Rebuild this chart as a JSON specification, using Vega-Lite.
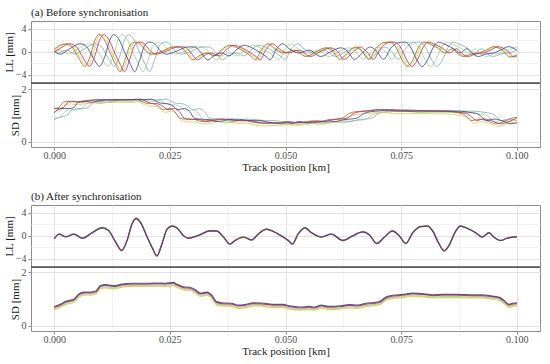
{
"$schema": "https://vega.github.io/schema/vega-lite/v6.json",
"background": "white",
"padding": {"left": 2, "top": 6, "right": 6, "bottom": 2},
"spacing": 17,
"config": {
  "font": "Liberation Serif",
  "view": {"stroke": "#8c8c8c", "strokeWidth": 1},
  "axis": {"labelFont": "Liberation Serif", "labelFontSize": 10, "labelColor": "#4d4d4d", "titleFont": "Liberation Serif", "titleFontSize": 11, "titleFontWeight": "normal", "titleColor": "#1a1a1a", "tickColor": "#8c8c8c", "tickSize": 3, "domain": false, "minExtent": 0, "labelOverlap": false},
  "axisX": {"labelPadding": 0, "titlePadding": 1},
  "axisY": {"labelPadding": 2, "titlePadding": 1},
  "title": {"font": "Liberation Serif", "fontSize": 11, "fontWeight": "normal", "color": "#1a1a1a", "anchor": "start", "frame": "group", "offset": 3}
},
"datasets": {
"lla": [
{"s":"G","x":0,"y":-0.03},{"s":"G","x":0.0013,"y":0.3},{"s":"G","x":0.0031,"y":-0.4},{"s":"G","x":0.0052,"y":0.55},{"s":"G","x":0.0074,"y":1.4},{"s":"G","x":0.0088,"y":0.9},{"s":"G","x":0.0103,"y":-1.1},{"s":"G","x":0.0116,"y":-2.5},{"s":"G","x":0.0128,"y":-0.7},{"s":"G","x":0.0138,"y":2.0},{"s":"G","x":0.0147,"y":3.0},{"s":"G","x":0.0157,"y":2.3},{"s":"G","x":0.0171,"y":-0.2},{"s":"G","x":0.0183,"y":-2.2},{"s":"G","x":0.0192,"y":-3.45},{"s":"G","x":0.0203,"y":-1.4},{"s":"G","x":0.0214,"y":1.15},{"s":"G","x":0.0225,"y":1.7},{"s":"G","x":0.0235,"y":1.4},{"s":"G","x":0.025,"y":0.0},{"s":"G","x":0.026,"y":-0.4},{"s":"G","x":0.0282,"y":0.1},{"s":"G","x":0.0307,"y":0.85},{"s":"G","x":0.0321,"y":0.85},{"s":"G","x":0.0336,"y":-0.2},{"s":"G","x":0.035,"y":-1.4},{"s":"G","x":0.0361,"y":-0.8},{"s":"G","x":0.0379,"y":-0.2},{"s":"G","x":0.0397,"y":-0.7},{"s":"G","x":0.0411,"y":0.3},{"s":"G","x":0.0429,"y":1.15},{"s":"G","x":0.0443,"y":0.8},{"s":"G","x":0.0461,"y":0.0},{"s":"G","x":0.0476,"y":-0.8},{"s":"G","x":0.0485,"y":-1.4},{"s":"G","x":0.0497,"y":0.3},{"s":"G","x":0.0512,"y":1.4},{"s":"G","x":0.0526,"y":0.55},{"s":"G","x":0.0547,"y":-0.2},{"s":"G","x":0.0569,"y":0.3},{"s":"G","x":0.0594,"y":-0.8},{"s":"G","x":0.0615,"y":0.0},{"s":"G","x":0.0637,"y":0.7},{"s":"G","x":0.0651,"y":0.2},{"s":"G","x":0.0667,"y":-1.3},{"s":"G","x":0.0684,"y":-0.2},{"s":"G","x":0.0701,"y":0.85},{"s":"G","x":0.0716,"y":0.0},{"s":"G","x":0.073,"y":-1.3},{"s":"G","x":0.0745,"y":0.55},{"s":"G","x":0.0762,"y":1.6},{"s":"G","x":0.0777,"y":1.7},{"s":"G","x":0.0788,"y":0.85},{"s":"G","x":0.0802,"y":-1.4},{"s":"G","x":0.0813,"y":-2.55},{"s":"G","x":0.0823,"y":-1.7},{"s":"G","x":0.0838,"y":0.85},{"s":"G","x":0.0848,"y":1.7},{"s":"G","x":0.0863,"y":1.3},{"s":"G","x":0.0881,"y":0.55},{"s":"G","x":0.0895,"y":-0.2},{"s":"G","x":0.091,"y":0.55},{"s":"G","x":0.092,"y":-0.2},{"s":"G","x":0.0935,"y":-0.8},{"s":"G","x":0.0949,"y":-0.4},{"s":"G","x":0.097,"y":-0.15},{"s":"G","x":0.0985,"y":0.4},{"s":"G","x":0.1,"y":0.9},
{"s":"T","x":0,"y":0.14},{"s":"T","x":0.0009,"y":-0.15},{"s":"T","x":0.0027,"y":0.3},{"s":"T","x":0.0045,"y":-0.4},{"s":"T","x":0.0066,"y":0.55},{"s":"T","x":0.0088,"y":1.4},{"s":"T","x":0.0102,"y":0.9},{"s":"T","x":0.0117,"y":-1.1},{"s":"T","x":0.013,"y":-2.5},{"s":"T","x":0.0142,"y":-0.7},{"s":"T","x":0.0152,"y":2.0},{"s":"T","x":0.0161,"y":3.0},{"s":"T","x":0.0171,"y":2.3},{"s":"T","x":0.0185,"y":-0.2},{"s":"T","x":0.0197,"y":-2.2},{"s":"T","x":0.0206,"y":-3.45},{"s":"T","x":0.0217,"y":-1.4},{"s":"T","x":0.0228,"y":1.15},{"s":"T","x":0.0239,"y":1.7},{"s":"T","x":0.0249,"y":1.4},{"s":"T","x":0.0264,"y":0.0},{"s":"T","x":0.0274,"y":-0.4},{"s":"T","x":0.0296,"y":0.1},{"s":"T","x":0.0321,"y":0.85},{"s":"T","x":0.0335,"y":0.85},{"s":"T","x":0.035,"y":-0.2},{"s":"T","x":0.0364,"y":-1.4},{"s":"T","x":0.0375,"y":-0.8},{"s":"T","x":0.0393,"y":-0.2},{"s":"T","x":0.0411,"y":-0.7},{"s":"T","x":0.0425,"y":0.3},{"s":"T","x":0.0443,"y":1.15},{"s":"T","x":0.0457,"y":0.8},{"s":"T","x":0.0475,"y":0.0},{"s":"T","x":0.049,"y":-0.8},{"s":"T","x":0.0499,"y":-1.4},{"s":"T","x":0.0511,"y":0.3},{"s":"T","x":0.0526,"y":1.4},{"s":"T","x":0.054,"y":0.55},{"s":"T","x":0.0561,"y":-0.2},{"s":"T","x":0.0583,"y":0.3},{"s":"T","x":0.0608,"y":-0.8},{"s":"T","x":0.0629,"y":0.0},{"s":"T","x":0.0651,"y":0.7},{"s":"T","x":0.0665,"y":0.2},{"s":"T","x":0.0681,"y":-1.3},{"s":"T","x":0.0698,"y":-0.2},{"s":"T","x":0.0715,"y":0.85},{"s":"T","x":0.073,"y":0.0},{"s":"T","x":0.0744,"y":-1.3},{"s":"T","x":0.0759,"y":0.55},{"s":"T","x":0.0776,"y":1.6},{"s":"T","x":0.0791,"y":1.7},{"s":"T","x":0.0802,"y":0.85},{"s":"T","x":0.0816,"y":-1.4},{"s":"T","x":0.0827,"y":-2.55},{"s":"T","x":0.0837,"y":-1.7},{"s":"T","x":0.0852,"y":0.85},{"s":"T","x":0.0862,"y":1.7},{"s":"T","x":0.0877,"y":1.3},{"s":"T","x":0.0895,"y":0.55},{"s":"T","x":0.0909,"y":-0.2},{"s":"T","x":0.0924,"y":0.55},{"s":"T","x":0.0934,"y":-0.2},{"s":"T","x":0.0949,"y":-0.8},{"s":"T","x":0.0963,"y":-0.4},{"s":"T","x":0.0984,"y":-0.15},{"s":"T","x":0.1,"y":0.3},
{"s":"Y","x":0,"y":0.28},{"s":"Y","x":0.0006,"y":0.55},{"s":"Y","x":0.0028,"y":1.4},{"s":"Y","x":0.0042,"y":0.9},{"s":"Y","x":0.0057,"y":-1.1},{"s":"Y","x":0.007,"y":-2.5},{"s":"Y","x":0.0082,"y":-0.7},{"s":"Y","x":0.0092,"y":2.0},{"s":"Y","x":0.0101,"y":3.0},{"s":"Y","x":0.0111,"y":2.3},{"s":"Y","x":0.0125,"y":-0.2},{"s":"Y","x":0.0137,"y":-2.2},{"s":"Y","x":0.0146,"y":-3.45},{"s":"Y","x":0.0157,"y":-1.4},{"s":"Y","x":0.0168,"y":1.15},{"s":"Y","x":0.0179,"y":1.7},{"s":"Y","x":0.0189,"y":1.4},{"s":"Y","x":0.0204,"y":0.0},{"s":"Y","x":0.0214,"y":-0.4},{"s":"Y","x":0.0236,"y":0.1},{"s":"Y","x":0.0261,"y":0.85},{"s":"Y","x":0.0275,"y":0.85},{"s":"Y","x":0.029,"y":-0.2},{"s":"Y","x":0.0304,"y":-1.4},{"s":"Y","x":0.0315,"y":-0.8},{"s":"Y","x":0.0333,"y":-0.2},{"s":"Y","x":0.0351,"y":-0.7},{"s":"Y","x":0.0365,"y":0.3},{"s":"Y","x":0.0383,"y":1.15},{"s":"Y","x":0.0397,"y":0.8},{"s":"Y","x":0.0415,"y":0.0},{"s":"Y","x":0.043,"y":-0.8},{"s":"Y","x":0.0439,"y":-1.4},{"s":"Y","x":0.0451,"y":0.3},{"s":"Y","x":0.0466,"y":1.4},{"s":"Y","x":0.048,"y":0.55},{"s":"Y","x":0.0501,"y":-0.2},{"s":"Y","x":0.0523,"y":0.3},{"s":"Y","x":0.0548,"y":-0.8},{"s":"Y","x":0.0569,"y":0.0},{"s":"Y","x":0.0591,"y":0.7},{"s":"Y","x":0.0605,"y":0.2},{"s":"Y","x":0.0621,"y":-1.3},{"s":"Y","x":0.0638,"y":-0.2},{"s":"Y","x":0.0655,"y":0.85},{"s":"Y","x":0.067,"y":0.0},{"s":"Y","x":0.0684,"y":-1.3},{"s":"Y","x":0.0699,"y":0.55},{"s":"Y","x":0.0716,"y":1.6},{"s":"Y","x":0.0731,"y":1.7},{"s":"Y","x":0.0742,"y":0.85},{"s":"Y","x":0.0756,"y":-1.4},{"s":"Y","x":0.0767,"y":-2.55},{"s":"Y","x":0.0777,"y":-1.7},{"s":"Y","x":0.0792,"y":0.85},{"s":"Y","x":0.0802,"y":1.7},{"s":"Y","x":0.0817,"y":1.3},{"s":"Y","x":0.0835,"y":0.55},{"s":"Y","x":0.0849,"y":-0.2},{"s":"Y","x":0.0864,"y":0.55},{"s":"Y","x":0.0874,"y":-0.2},{"s":"Y","x":0.0889,"y":-0.8},{"s":"Y","x":0.0903,"y":-0.4},{"s":"Y","x":0.0924,"y":-0.15},{"s":"Y","x":0.0939,"y":0.4},{"s":"Y","x":0.0954,"y":0.9},{"s":"Y","x":0.0972,"y":0.3},{"s":"Y","x":0.0989,"y":-0.9},{"s":"Y","x":0.1,"y":-0.6},
{"s":"O","x":0,"y":0.46},{"s":"O","x":0.0024,"y":1.4},{"s":"O","x":0.0038,"y":0.9},{"s":"O","x":0.0053,"y":-1.1},{"s":"O","x":0.0066,"y":-2.5},{"s":"O","x":0.0078,"y":-0.7},{"s":"O","x":0.0088,"y":2.0},{"s":"O","x":0.0097,"y":3.0},{"s":"O","x":0.0107,"y":2.3},{"s":"O","x":0.0121,"y":-0.2},{"s":"O","x":0.0133,"y":-2.2},{"s":"O","x":0.0142,"y":-3.45},{"s":"O","x":0.0153,"y":-1.4},{"s":"O","x":0.0164,"y":1.15},{"s":"O","x":0.0175,"y":1.7},{"s":"O","x":0.0185,"y":1.4},{"s":"O","x":0.02,"y":0.0},{"s":"O","x":0.021,"y":-0.4},{"s":"O","x":0.0232,"y":0.1},{"s":"O","x":0.0257,"y":0.85},{"s":"O","x":0.0271,"y":0.85},{"s":"O","x":0.0286,"y":-0.2},{"s":"O","x":0.03,"y":-1.4},{"s":"O","x":0.0311,"y":-0.8},{"s":"O","x":0.0329,"y":-0.2},{"s":"O","x":0.0347,"y":-0.7},{"s":"O","x":0.0361,"y":0.3},{"s":"O","x":0.0379,"y":1.15},{"s":"O","x":0.0393,"y":0.8},{"s":"O","x":0.0411,"y":0.0},{"s":"O","x":0.0426,"y":-0.8},{"s":"O","x":0.0435,"y":-1.4},{"s":"O","x":0.0447,"y":0.3},{"s":"O","x":0.0462,"y":1.4},{"s":"O","x":0.0476,"y":0.55},{"s":"O","x":0.0497,"y":-0.2},{"s":"O","x":0.0519,"y":0.3},{"s":"O","x":0.0544,"y":-0.8},{"s":"O","x":0.0565,"y":0.0},{"s":"O","x":0.0587,"y":0.7},{"s":"O","x":0.0601,"y":0.2},{"s":"O","x":0.0617,"y":-1.3},{"s":"O","x":0.0634,"y":-0.2},{"s":"O","x":0.0651,"y":0.85},{"s":"O","x":0.0666,"y":0.0},{"s":"O","x":0.068,"y":-1.3},{"s":"O","x":0.0695,"y":0.55},{"s":"O","x":0.0712,"y":1.6},{"s":"O","x":0.0727,"y":1.7},{"s":"O","x":0.0738,"y":0.85},{"s":"O","x":0.0752,"y":-1.4},{"s":"O","x":0.0763,"y":-2.55},{"s":"O","x":0.0773,"y":-1.7},{"s":"O","x":0.0788,"y":0.85},{"s":"O","x":0.0798,"y":1.7},{"s":"O","x":0.0813,"y":1.3},{"s":"O","x":0.0831,"y":0.55},{"s":"O","x":0.0845,"y":-0.2},{"s":"O","x":0.086,"y":0.55},{"s":"O","x":0.087,"y":-0.2},{"s":"O","x":0.0885,"y":-0.8},{"s":"O","x":0.0899,"y":-0.4},{"s":"O","x":0.092,"y":-0.15},{"s":"O","x":0.0935,"y":0.4},{"s":"O","x":0.095,"y":0.9},{"s":"O","x":0.0968,"y":0.3},{"s":"O","x":0.0985,"y":-0.9},{"s":"O","x":0.1,"y":-0.45},
{"s":"R","x":0,"y":0.0},{"s":"R","x":0.0012,"y":0.55},{"s":"R","x":0.0034,"y":1.4},{"s":"R","x":0.0048,"y":0.9},{"s":"R","x":0.0063,"y":-1.1},{"s":"R","x":0.0076,"y":-2.5},{"s":"R","x":0.0088,"y":-0.7},{"s":"R","x":0.0098,"y":2.0},{"s":"R","x":0.0107,"y":3.0},{"s":"R","x":0.0117,"y":2.3},{"s":"R","x":0.0131,"y":-0.2},{"s":"R","x":0.0143,"y":-2.2},{"s":"R","x":0.0152,"y":-3.45},{"s":"R","x":0.0163,"y":-1.4},{"s":"R","x":0.0174,"y":1.15},{"s":"R","x":0.0185,"y":1.7},{"s":"R","x":0.0195,"y":1.4},{"s":"R","x":0.021,"y":0.0},{"s":"R","x":0.022,"y":-0.4},{"s":"R","x":0.0242,"y":0.1},{"s":"R","x":0.0267,"y":0.85},{"s":"R","x":0.0281,"y":0.85},{"s":"R","x":0.0296,"y":-0.2},{"s":"R","x":0.031,"y":-1.4},{"s":"R","x":0.0321,"y":-0.8},{"s":"R","x":0.0339,"y":-0.2},{"s":"R","x":0.0357,"y":-0.7},{"s":"R","x":0.0371,"y":0.3},{"s":"R","x":0.0389,"y":1.15},{"s":"R","x":0.0403,"y":0.8},{"s":"R","x":0.0421,"y":0.0},{"s":"R","x":0.0436,"y":-0.8},{"s":"R","x":0.0445,"y":-1.4},{"s":"R","x":0.0457,"y":0.3},{"s":"R","x":0.0472,"y":1.4},{"s":"R","x":0.0486,"y":0.55},{"s":"R","x":0.0507,"y":-0.2},{"s":"R","x":0.0529,"y":0.3},{"s":"R","x":0.0554,"y":-0.8},{"s":"R","x":0.0575,"y":0.0},{"s":"R","x":0.0597,"y":0.7},{"s":"R","x":0.0611,"y":0.2},{"s":"R","x":0.0627,"y":-1.3},{"s":"R","x":0.0644,"y":-0.2},{"s":"R","x":0.0661,"y":0.85},{"s":"R","x":0.0676,"y":0.0},{"s":"R","x":0.069,"y":-1.3},{"s":"R","x":0.0705,"y":0.55},{"s":"R","x":0.0722,"y":1.6},{"s":"R","x":0.0737,"y":1.7},{"s":"R","x":0.0748,"y":0.85},{"s":"R","x":0.0762,"y":-1.4},{"s":"R","x":0.0773,"y":-2.55},{"s":"R","x":0.0783,"y":-1.7},{"s":"R","x":0.0798,"y":0.85},{"s":"R","x":0.0808,"y":1.7},{"s":"R","x":0.0823,"y":1.3},{"s":"R","x":0.0841,"y":0.55},{"s":"R","x":0.0855,"y":-0.2},{"s":"R","x":0.087,"y":0.55},{"s":"R","x":0.088,"y":-0.2},{"s":"R","x":0.0895,"y":-0.8},{"s":"R","x":0.0909,"y":-0.4},{"s":"R","x":0.093,"y":-0.15},{"s":"R","x":0.0945,"y":0.4},{"s":"R","x":0.096,"y":0.9},{"s":"R","x":0.0978,"y":0.3},{"s":"R","x":0.0995,"y":-0.9},{"s":"R","x":0.1,"y":-0.75},
{"s":"P","x":0,"y":0.11},{"s":"P","x":0.0013,"y":-0.4},{"s":"P","x":0.0034,"y":0.55},{"s":"P","x":0.0056,"y":1.4},{"s":"P","x":0.007,"y":0.9},{"s":"P","x":0.0085,"y":-1.1},{"s":"P","x":0.0098,"y":-2.5},{"s":"P","x":0.011,"y":-0.7},{"s":"P","x":0.012,"y":2.0},{"s":"P","x":0.0129,"y":3.0},{"s":"P","x":0.0139,"y":2.3},{"s":"P","x":0.0153,"y":-0.2},{"s":"P","x":0.0165,"y":-2.2},{"s":"P","x":0.0174,"y":-3.45},{"s":"P","x":0.0185,"y":-1.4},{"s":"P","x":0.0196,"y":1.15},{"s":"P","x":0.0207,"y":1.7},{"s":"P","x":0.0217,"y":1.4},{"s":"P","x":0.0232,"y":0.0},{"s":"P","x":0.0242,"y":-0.4},{"s":"P","x":0.0264,"y":0.1},{"s":"P","x":0.0289,"y":0.85},{"s":"P","x":0.0303,"y":0.85},{"s":"P","x":0.0318,"y":-0.2},{"s":"P","x":0.0332,"y":-1.4},{"s":"P","x":0.0343,"y":-0.8},{"s":"P","x":0.0361,"y":-0.2},{"s":"P","x":0.0379,"y":-0.7},{"s":"P","x":0.0393,"y":0.3},{"s":"P","x":0.0411,"y":1.15},{"s":"P","x":0.0425,"y":0.8},{"s":"P","x":0.0443,"y":0.0},{"s":"P","x":0.0458,"y":-0.8},{"s":"P","x":0.0467,"y":-1.4},{"s":"P","x":0.0479,"y":0.3},{"s":"P","x":0.0494,"y":1.4},{"s":"P","x":0.0508,"y":0.55},{"s":"P","x":0.0529,"y":-0.2},{"s":"P","x":0.0551,"y":0.3},{"s":"P","x":0.0576,"y":-0.8},{"s":"P","x":0.0597,"y":0.0},{"s":"P","x":0.0619,"y":0.7},{"s":"P","x":0.0633,"y":0.2},{"s":"P","x":0.0649,"y":-1.3},{"s":"P","x":0.0666,"y":-0.2},{"s":"P","x":0.0683,"y":0.85},{"s":"P","x":0.0698,"y":0.0},{"s":"P","x":0.0712,"y":-1.3},{"s":"P","x":0.0727,"y":0.55},{"s":"P","x":0.0744,"y":1.6},{"s":"P","x":0.0759,"y":1.7},{"s":"P","x":0.077,"y":0.85},{"s":"P","x":0.0784,"y":-1.4},{"s":"P","x":0.0795,"y":-2.55},{"s":"P","x":0.0805,"y":-1.7},{"s":"P","x":0.082,"y":0.85},{"s":"P","x":0.083,"y":1.7},{"s":"P","x":0.0845,"y":1.3},{"s":"P","x":0.0863,"y":0.55},{"s":"P","x":0.0877,"y":-0.2},{"s":"P","x":0.0892,"y":0.55},{"s":"P","x":0.0902,"y":-0.2},{"s":"P","x":0.0917,"y":-0.8},{"s":"P","x":0.0931,"y":-0.4},{"s":"P","x":0.0952,"y":-0.15},{"s":"P","x":0.0967,"y":0.4},{"s":"P","x":0.0982,"y":0.9},{"s":"P","x":0.1,"y":0.3}
],
"sda": [
{"s":"G","x":0,"y":0.88},{"s":"G","x":0.0006,"y":0.91},{"s":"G","x":0.0013,"y":0.95},{"s":"G","x":0.0024,"y":1.15},{"s":"G","x":0.0035,"y":1.21},{"s":"G","x":0.0049,"y":1.21},{"s":"G","x":0.006,"y":1.25},{"s":"G","x":0.007,"y":1.45},{"s":"G","x":0.0081,"y":1.49},{"s":"G","x":0.0099,"y":1.45},{"s":"G","x":0.0117,"y":1.51},{"s":"G","x":0.0138,"y":1.54},{"s":"G","x":0.0174,"y":1.54},{"s":"G","x":0.0196,"y":1.55},{"s":"G","x":0.021,"y":1.54},{"s":"G","x":0.0228,"y":1.57},{"s":"G","x":0.0235,"y":1.51},{"s":"G","x":0.025,"y":1.41},{"s":"G","x":0.0264,"y":1.39},{"s":"G","x":0.0275,"y":1.3},{"s":"G","x":0.0286,"y":1.17},{"s":"G","x":0.03,"y":1.21},{"s":"G","x":0.0311,"y":1.09},{"s":"G","x":0.0321,"y":0.85},{"s":"G","x":0.0332,"y":0.81},{"s":"G","x":0.0354,"y":0.79},{"s":"G","x":0.0368,"y":0.72},{"s":"G","x":0.0382,"y":0.74},{"s":"G","x":0.04,"y":0.81},{"s":"G","x":0.0418,"y":0.8},{"s":"G","x":0.0443,"y":0.75},{"s":"G","x":0.0465,"y":0.75},{"s":"G","x":0.0479,"y":0.69},{"s":"G","x":0.0501,"y":0.65},{"s":"G","x":0.0522,"y":0.67},{"s":"G","x":0.0533,"y":0.65},{"s":"G","x":0.0547,"y":0.72},{"s":"G","x":0.0565,"y":0.67},{"s":"G","x":0.0587,"y":0.69},{"s":"G","x":0.0608,"y":0.74},{"s":"G","x":0.0626,"y":0.72},{"s":"G","x":0.0644,"y":0.79},{"s":"G","x":0.0658,"y":0.81},{"s":"G","x":0.0673,"y":0.85},{"s":"G","x":0.0687,"y":1.02},{"s":"G","x":0.0701,"y":1.09},{"s":"G","x":0.0723,"y":1.12},{"s":"G","x":0.0745,"y":1.17},{"s":"G","x":0.0766,"y":1.15},{"s":"G","x":0.0788,"y":1.11},{"s":"G","x":0.0809,"y":1.12},{"s":"G","x":0.0838,"y":1.12},{"s":"G","x":0.0874,"y":1.11},{"s":"G","x":0.0895,"y":1.11},{"s":"G","x":0.0917,"y":1.06},{"s":"G","x":0.0931,"y":1.02},{"s":"G","x":0.0942,"y":0.9},{"s":"G","x":0.0953,"y":0.75},{"s":"G","x":0.0963,"y":0.8},{"s":"G","x":0.097,"y":0.81},{"s":"G","x":0.0985,"y":0.75},{"s":"G","x":0.1,"y":0.68},
{"s":"T","x":0,"y":0.83},{"s":"T","x":0.0009,"y":0.91},{"s":"T","x":0.002,"y":0.96},{"s":"T","x":0.0027,"y":1.0},{"s":"T","x":0.0038,"y":1.2},{"s":"T","x":0.0049,"y":1.26},{"s":"T","x":0.0063,"y":1.26},{"s":"T","x":0.0074,"y":1.3},{"s":"T","x":0.0084,"y":1.5},{"s":"T","x":0.0095,"y":1.54},{"s":"T","x":0.0113,"y":1.5},{"s":"T","x":0.0131,"y":1.56},{"s":"T","x":0.0152,"y":1.59},{"s":"T","x":0.0188,"y":1.59},{"s":"T","x":0.021,"y":1.6},{"s":"T","x":0.0224,"y":1.59},{"s":"T","x":0.0242,"y":1.62},{"s":"T","x":0.0249,"y":1.56},{"s":"T","x":0.0264,"y":1.46},{"s":"T","x":0.0278,"y":1.44},{"s":"T","x":0.0289,"y":1.35},{"s":"T","x":0.03,"y":1.22},{"s":"T","x":0.0314,"y":1.26},{"s":"T","x":0.0325,"y":1.14},{"s":"T","x":0.0335,"y":0.9},{"s":"T","x":0.0346,"y":0.86},{"s":"T","x":0.0368,"y":0.84},{"s":"T","x":0.0382,"y":0.77},{"s":"T","x":0.0396,"y":0.79},{"s":"T","x":0.0414,"y":0.86},{"s":"T","x":0.0432,"y":0.85},{"s":"T","x":0.0457,"y":0.8},{"s":"T","x":0.0479,"y":0.8},{"s":"T","x":0.0493,"y":0.74},{"s":"T","x":0.0515,"y":0.7},{"s":"T","x":0.0536,"y":0.72},{"s":"T","x":0.0547,"y":0.7},{"s":"T","x":0.0561,"y":0.77},{"s":"T","x":0.0579,"y":0.72},{"s":"T","x":0.0601,"y":0.74},{"s":"T","x":0.0622,"y":0.79},{"s":"T","x":0.064,"y":0.77},{"s":"T","x":0.0658,"y":0.84},{"s":"T","x":0.0672,"y":0.86},{"s":"T","x":0.0687,"y":0.9},{"s":"T","x":0.0701,"y":1.07},{"s":"T","x":0.0715,"y":1.14},{"s":"T","x":0.0737,"y":1.17},{"s":"T","x":0.0759,"y":1.22},{"s":"T","x":0.078,"y":1.2},{"s":"T","x":0.0802,"y":1.16},{"s":"T","x":0.0823,"y":1.17},{"s":"T","x":0.0852,"y":1.17},{"s":"T","x":0.0888,"y":1.16},{"s":"T","x":0.0909,"y":1.16},{"s":"T","x":0.0931,"y":1.11},{"s":"T","x":0.0945,"y":1.07},{"s":"T","x":0.0956,"y":0.95},{"s":"T","x":0.0967,"y":0.8},{"s":"T","x":0.0977,"y":0.85},{"s":"T","x":0.0984,"y":0.86},{"s":"T","x":0.1,"y":0.8},
{"s":"Y","x":0,"y":1.16},{"s":"Y","x":0.0014,"y":1.2},{"s":"Y","x":0.0024,"y":1.4},{"s":"Y","x":0.0035,"y":1.44},{"s":"Y","x":0.0053,"y":1.4},{"s":"Y","x":0.0071,"y":1.46},{"s":"Y","x":0.0092,"y":1.49},{"s":"Y","x":0.0128,"y":1.49},{"s":"Y","x":0.015,"y":1.5},{"s":"Y","x":0.0164,"y":1.49},{"s":"Y","x":0.0182,"y":1.52},{"s":"Y","x":0.0189,"y":1.46},{"s":"Y","x":0.0204,"y":1.36},{"s":"Y","x":0.0218,"y":1.34},{"s":"Y","x":0.0229,"y":1.25},{"s":"Y","x":0.024,"y":1.12},{"s":"Y","x":0.0254,"y":1.16},{"s":"Y","x":0.0265,"y":1.04},{"s":"Y","x":0.0275,"y":0.8},{"s":"Y","x":0.0286,"y":0.76},{"s":"Y","x":0.0308,"y":0.74},{"s":"Y","x":0.0322,"y":0.67},{"s":"Y","x":0.0336,"y":0.69},{"s":"Y","x":0.0354,"y":0.76},{"s":"Y","x":0.0372,"y":0.75},{"s":"Y","x":0.0397,"y":0.7},{"s":"Y","x":0.0419,"y":0.7},{"s":"Y","x":0.0433,"y":0.64},{"s":"Y","x":0.0455,"y":0.6},{"s":"Y","x":0.0476,"y":0.62},{"s":"Y","x":0.0487,"y":0.6},{"s":"Y","x":0.0501,"y":0.67},{"s":"Y","x":0.0519,"y":0.62},{"s":"Y","x":0.0541,"y":0.64},{"s":"Y","x":0.0562,"y":0.69},{"s":"Y","x":0.058,"y":0.67},{"s":"Y","x":0.0598,"y":0.74},{"s":"Y","x":0.0612,"y":0.76},{"s":"Y","x":0.0627,"y":0.8},{"s":"Y","x":0.0641,"y":0.97},{"s":"Y","x":0.0655,"y":1.04},{"s":"Y","x":0.0677,"y":1.07},{"s":"Y","x":0.0699,"y":1.12},{"s":"Y","x":0.072,"y":1.1},{"s":"Y","x":0.0742,"y":1.06},{"s":"Y","x":0.0763,"y":1.07},{"s":"Y","x":0.0792,"y":1.07},{"s":"Y","x":0.0828,"y":1.06},{"s":"Y","x":0.0849,"y":1.06},{"s":"Y","x":0.0871,"y":1.01},{"s":"Y","x":0.0885,"y":0.97},{"s":"Y","x":0.0896,"y":0.85},{"s":"Y","x":0.0907,"y":0.7},{"s":"Y","x":0.0917,"y":0.75},{"s":"Y","x":0.0924,"y":0.76},{"s":"Y","x":0.0939,"y":0.7},{"s":"Y","x":0.0959,"y":0.58},{"s":"Y","x":0.0974,"y":0.65},{"s":"Y","x":0.0994,"y":0.8},{"s":"Y","x":0.1,"y":0.82},
{"s":"O","x":0,"y":1.26},{"s":"O","x":0.001,"y":1.3},{"s":"O","x":0.002,"y":1.5},{"s":"O","x":0.0031,"y":1.54},{"s":"O","x":0.0049,"y":1.5},{"s":"O","x":0.0067,"y":1.56},{"s":"O","x":0.0088,"y":1.59},{"s":"O","x":0.0124,"y":1.59},{"s":"O","x":0.0146,"y":1.6},{"s":"O","x":0.016,"y":1.59},{"s":"O","x":0.0178,"y":1.62},{"s":"O","x":0.0185,"y":1.56},{"s":"O","x":0.02,"y":1.46},{"s":"O","x":0.0214,"y":1.44},{"s":"O","x":0.0225,"y":1.35},{"s":"O","x":0.0236,"y":1.22},{"s":"O","x":0.025,"y":1.26},{"s":"O","x":0.0261,"y":1.14},{"s":"O","x":0.0271,"y":0.9},{"s":"O","x":0.0282,"y":0.86},{"s":"O","x":0.0304,"y":0.84},{"s":"O","x":0.0318,"y":0.77},{"s":"O","x":0.0332,"y":0.79},{"s":"O","x":0.035,"y":0.86},{"s":"O","x":0.0368,"y":0.85},{"s":"O","x":0.0393,"y":0.8},{"s":"O","x":0.0415,"y":0.8},{"s":"O","x":0.0429,"y":0.74},{"s":"O","x":0.0451,"y":0.7},{"s":"O","x":0.0472,"y":0.72},{"s":"O","x":0.0483,"y":0.7},{"s":"O","x":0.0497,"y":0.77},{"s":"O","x":0.0515,"y":0.72},{"s":"O","x":0.0537,"y":0.74},{"s":"O","x":0.0558,"y":0.79},{"s":"O","x":0.0576,"y":0.77},{"s":"O","x":0.0594,"y":0.84},{"s":"O","x":0.0608,"y":0.86},{"s":"O","x":0.0623,"y":0.9},{"s":"O","x":0.0637,"y":1.07},{"s":"O","x":0.0651,"y":1.14},{"s":"O","x":0.0673,"y":1.17},{"s":"O","x":0.0695,"y":1.22},{"s":"O","x":0.0716,"y":1.2},{"s":"O","x":0.0738,"y":1.16},{"s":"O","x":0.0759,"y":1.17},{"s":"O","x":0.0788,"y":1.17},{"s":"O","x":0.0824,"y":1.16},{"s":"O","x":0.0845,"y":1.16},{"s":"O","x":0.0867,"y":1.11},{"s":"O","x":0.0881,"y":1.07},{"s":"O","x":0.0892,"y":0.95},{"s":"O","x":0.0903,"y":0.8},{"s":"O","x":0.0913,"y":0.85},{"s":"O","x":0.092,"y":0.86},{"s":"O","x":0.0935,"y":0.8},{"s":"O","x":0.0955,"y":0.68},{"s":"O","x":0.097,"y":0.75},{"s":"O","x":0.099,"y":0.9},{"s":"O","x":0.1,"y":0.93},
{"s":"R","x":0,"y":1.26},{"s":"R","x":0.0009,"y":1.26},{"s":"R","x":0.002,"y":1.3},{"s":"R","x":0.003,"y":1.5},{"s":"R","x":0.0041,"y":1.54},{"s":"R","x":0.0059,"y":1.5},{"s":"R","x":0.0077,"y":1.56},{"s":"R","x":0.0098,"y":1.59},{"s":"R","x":0.0134,"y":1.59},{"s":"R","x":0.0156,"y":1.6},{"s":"R","x":0.017,"y":1.59},{"s":"R","x":0.0188,"y":1.62},{"s":"R","x":0.0195,"y":1.56},{"s":"R","x":0.021,"y":1.46},{"s":"R","x":0.0224,"y":1.44},{"s":"R","x":0.0235,"y":1.35},{"s":"R","x":0.0246,"y":1.22},{"s":"R","x":0.026,"y":1.26},{"s":"R","x":0.0271,"y":1.14},{"s":"R","x":0.0281,"y":0.9},{"s":"R","x":0.0292,"y":0.86},{"s":"R","x":0.0314,"y":0.84},{"s":"R","x":0.0328,"y":0.77},{"s":"R","x":0.0342,"y":0.79},{"s":"R","x":0.036,"y":0.86},{"s":"R","x":0.0378,"y":0.85},{"s":"R","x":0.0403,"y":0.8},{"s":"R","x":0.0425,"y":0.8},{"s":"R","x":0.0439,"y":0.74},{"s":"R","x":0.0461,"y":0.7},{"s":"R","x":0.0482,"y":0.72},{"s":"R","x":0.0493,"y":0.7},{"s":"R","x":0.0507,"y":0.77},{"s":"R","x":0.0525,"y":0.72},{"s":"R","x":0.0547,"y":0.74},{"s":"R","x":0.0568,"y":0.79},{"s":"R","x":0.0586,"y":0.77},{"s":"R","x":0.0604,"y":0.84},{"s":"R","x":0.0618,"y":0.86},{"s":"R","x":0.0633,"y":0.9},{"s":"R","x":0.0647,"y":1.07},{"s":"R","x":0.0661,"y":1.14},{"s":"R","x":0.0683,"y":1.17},{"s":"R","x":0.0705,"y":1.22},{"s":"R","x":0.0726,"y":1.2},{"s":"R","x":0.0748,"y":1.16},{"s":"R","x":0.0769,"y":1.17},{"s":"R","x":0.0798,"y":1.17},{"s":"R","x":0.0834,"y":1.16},{"s":"R","x":0.0855,"y":1.16},{"s":"R","x":0.0877,"y":1.11},{"s":"R","x":0.0891,"y":1.07},{"s":"R","x":0.0902,"y":0.95},{"s":"R","x":0.0913,"y":0.8},{"s":"R","x":0.0923,"y":0.85},{"s":"R","x":0.093,"y":0.86},{"s":"R","x":0.0945,"y":0.8},{"s":"R","x":0.0965,"y":0.68},{"s":"R","x":0.098,"y":0.75},{"s":"R","x":0.1,"y":0.9},
{"s":"P","x":0,"y":1.09},{"s":"P","x":0.0006,"y":1.2},{"s":"P","x":0.0017,"y":1.26},{"s":"P","x":0.0031,"y":1.26},{"s":"P","x":0.0042,"y":1.3},{"s":"P","x":0.0052,"y":1.5},{"s":"P","x":0.0063,"y":1.54},{"s":"P","x":0.0081,"y":1.5},{"s":"P","x":0.0099,"y":1.56},{"s":"P","x":0.012,"y":1.59},{"s":"P","x":0.0156,"y":1.59},{"s":"P","x":0.0178,"y":1.6},{"s":"P","x":0.0192,"y":1.59},{"s":"P","x":0.021,"y":1.62},{"s":"P","x":0.0217,"y":1.56},{"s":"P","x":0.0232,"y":1.46},{"s":"P","x":0.0246,"y":1.44},{"s":"P","x":0.0257,"y":1.35},{"s":"P","x":0.0268,"y":1.22},{"s":"P","x":0.0282,"y":1.26},{"s":"P","x":0.0293,"y":1.14},{"s":"P","x":0.0303,"y":0.9},{"s":"P","x":0.0314,"y":0.86},{"s":"P","x":0.0336,"y":0.84},{"s":"P","x":0.035,"y":0.77},{"s":"P","x":0.0364,"y":0.79},{"s":"P","x":0.0382,"y":0.86},{"s":"P","x":0.04,"y":0.85},{"s":"P","x":0.0425,"y":0.8},{"s":"P","x":0.0447,"y":0.8},{"s":"P","x":0.0461,"y":0.74},{"s":"P","x":0.0483,"y":0.7},{"s":"P","x":0.0504,"y":0.72},{"s":"P","x":0.0515,"y":0.7},{"s":"P","x":0.0529,"y":0.77},{"s":"P","x":0.0547,"y":0.72},{"s":"P","x":0.0569,"y":0.74},{"s":"P","x":0.059,"y":0.79},{"s":"P","x":0.0608,"y":0.77},{"s":"P","x":0.0626,"y":0.84},{"s":"P","x":0.064,"y":0.86},{"s":"P","x":0.0655,"y":0.9},{"s":"P","x":0.0669,"y":1.07},{"s":"P","x":0.0683,"y":1.14},{"s":"P","x":0.0705,"y":1.17},{"s":"P","x":0.0727,"y":1.22},{"s":"P","x":0.0748,"y":1.2},{"s":"P","x":0.077,"y":1.16},{"s":"P","x":0.0791,"y":1.17},{"s":"P","x":0.082,"y":1.17},{"s":"P","x":0.0856,"y":1.16},{"s":"P","x":0.0877,"y":1.16},{"s":"P","x":0.0899,"y":1.11},{"s":"P","x":0.0913,"y":1.07},{"s":"P","x":0.0924,"y":0.95},{"s":"P","x":0.0935,"y":0.8},{"s":"P","x":0.0945,"y":0.85},{"s":"P","x":0.0952,"y":0.86},{"s":"P","x":0.0967,"y":0.8},{"s":"P","x":0.0987,"y":0.68},{"s":"P","x":0.1,"y":0.73}
],
"llb": [
{"s":"Y","x":0,"y":-0.55},{"s":"Y","x":0.0011,"y":0.25},{"s":"Y","x":0.0025,"y":-0.2},{"s":"Y","x":0.0043,"y":0.25},{"s":"Y","x":0.0061,"y":-0.45},{"s":"Y","x":0.0082,"y":0.5},{"s":"Y","x":0.0104,"y":1.45},{"s":"Y","x":0.0118,"y":0.95},{"s":"Y","x":0.0133,"y":-1.1},{"s":"Y","x":0.0146,"y":-2.65},{"s":"Y","x":0.0158,"y":-0.75},{"s":"Y","x":0.0168,"y":2.05},{"s":"Y","x":0.0177,"y":3.15},{"s":"Y","x":0.0187,"y":2.4},{"s":"Y","x":0.0201,"y":-0.2},{"s":"Y","x":0.0213,"y":-2.3},{"s":"Y","x":0.0222,"y":-3.6},{"s":"Y","x":0.0233,"y":-1.45},{"s":"Y","x":0.0244,"y":1.15},{"s":"Y","x":0.0255,"y":1.8},{"s":"Y","x":0.0265,"y":1.45},{"s":"Y","x":0.028,"y":0},{"s":"Y","x":0.029,"y":-0.45},{"s":"Y","x":0.0312,"y":0.05},{"s":"Y","x":0.0337,"y":0.9},{"s":"Y","x":0.0351,"y":0.9},{"s":"Y","x":0.0366,"y":-0.25},{"s":"Y","x":0.038,"y":-1.5},{"s":"Y","x":0.0391,"y":-0.85},{"s":"Y","x":0.0409,"y":-0.25},{"s":"Y","x":0.0427,"y":-0.8},{"s":"Y","x":0.0441,"y":0.25},{"s":"Y","x":0.0459,"y":1.2},{"s":"Y","x":0.0473,"y":0.8},{"s":"Y","x":0.0491,"y":0},{"s":"Y","x":0.0506,"y":-0.85},{"s":"Y","x":0.0515,"y":-1.5},{"s":"Y","x":0.0527,"y":0.25},{"s":"Y","x":0.0542,"y":1.45},{"s":"Y","x":0.0556,"y":0.55},{"s":"Y","x":0.0577,"y":-0.25},{"s":"Y","x":0.0599,"y":0.3},{"s":"Y","x":0.0624,"y":-0.85},{"s":"Y","x":0.0645,"y":0},{"s":"Y","x":0.0667,"y":0.75},{"s":"Y","x":0.0681,"y":0.2},{"s":"Y","x":0.0697,"y":-1.4},{"s":"Y","x":0.0714,"y":-0.25},{"s":"Y","x":0.0731,"y":0.9},{"s":"Y","x":0.0746,"y":0},{"s":"Y","x":0.076,"y":-1.4},{"s":"Y","x":0.0775,"y":0.5},{"s":"Y","x":0.0792,"y":1.65},{"s":"Y","x":0.0807,"y":1.8},{"s":"Y","x":0.0818,"y":0.85},{"s":"Y","x":0.0832,"y":-1.5},{"s":"Y","x":0.0843,"y":-2.7},{"s":"Y","x":0.0853,"y":-1.75},{"s":"Y","x":0.0868,"y":0.85},{"s":"Y","x":0.0878,"y":1.8},{"s":"Y","x":0.0893,"y":1.3},{"s":"Y","x":0.0911,"y":0.55},{"s":"Y","x":0.0925,"y":-0.25},{"s":"Y","x":0.094,"y":0.5},{"s":"Y","x":0.095,"y":-0.25},{"s":"Y","x":0.0965,"y":-0.85},{"s":"Y","x":0.0979,"y":-0.45},{"s":"Y","x":0.1,"y":-0.2},
{"s":"G","x":0,"y":-0.45},{"s":"G","x":0.0011,"y":0.35},{"s":"G","x":0.0025,"y":-0.1},{"s":"G","x":0.0043,"y":0.35},{"s":"G","x":0.0061,"y":-0.35},{"s":"G","x":0.0082,"y":0.6},{"s":"G","x":0.0104,"y":1.5},{"s":"G","x":0.0118,"y":0.95},{"s":"G","x":0.0133,"y":-1.05},{"s":"G","x":0.0146,"y":-2.55},{"s":"G","x":0.0158,"y":-0.65},{"s":"G","x":0.0168,"y":2.1},{"s":"G","x":0.0177,"y":3.1},{"s":"G","x":0.0187,"y":2.35},{"s":"G","x":0.0201,"y":-0.15},{"s":"G","x":0.0213,"y":-2.25},{"s":"G","x":0.0222,"y":-3.5},{"s":"G","x":0.0233,"y":-1.35},{"s":"G","x":0.0244,"y":1.2},{"s":"G","x":0.0255,"y":1.75},{"s":"G","x":0.0265,"y":1.45},{"s":"G","x":0.028,"y":0.05},{"s":"G","x":0.029,"y":-0.35},{"s":"G","x":0.0312,"y":0.15},{"s":"G","x":0.0337,"y":0.95},{"s":"G","x":0.0351,"y":0.9},{"s":"G","x":0.0366,"y":-0.15},{"s":"G","x":0.038,"y":-1.45},{"s":"G","x":0.0391,"y":-0.75},{"s":"G","x":0.0409,"y":-0.15},{"s":"G","x":0.0427,"y":-0.65},{"s":"G","x":0.0441,"y":0.35},{"s":"G","x":0.0459,"y":1.2},{"s":"G","x":0.0473,"y":0.85},{"s":"G","x":0.0491,"y":0.05},{"s":"G","x":0.0506,"y":-0.75},{"s":"G","x":0.0515,"y":-1.45},{"s":"G","x":0.0527,"y":0.35},{"s":"G","x":0.0542,"y":1.5},{"s":"G","x":0.0556,"y":0.6},{"s":"G","x":0.0577,"y":-0.15},{"s":"G","x":0.0599,"y":0.35},{"s":"G","x":0.0624,"y":-0.75},{"s":"G","x":0.0645,"y":0.05},{"s":"G","x":0.0667,"y":0.75},{"s":"G","x":0.0681,"y":0.25},{"s":"G","x":0.0697,"y":-1.3},{"s":"G","x":0.0714,"y":-0.15},{"s":"G","x":0.0731,"y":0.9},{"s":"G","x":0.0746,"y":0.05},{"s":"G","x":0.076,"y":-1.3},{"s":"G","x":0.0775,"y":0.6},{"s":"G","x":0.0792,"y":1.65},{"s":"G","x":0.0807,"y":1.75},{"s":"G","x":0.0818,"y":0.9},{"s":"G","x":0.0832,"y":-1.4},{"s":"G","x":0.0843,"y":-2.6},{"s":"G","x":0.0853,"y":-1.65},{"s":"G","x":0.0868,"y":0.9},{"s":"G","x":0.0878,"y":1.75},{"s":"G","x":0.0893,"y":1.35},{"s":"G","x":0.0911,"y":0.6},{"s":"G","x":0.0925,"y":-0.15},{"s":"G","x":0.094,"y":0.6},{"s":"G","x":0.095,"y":-0.15},{"s":"G","x":0.0965,"y":-0.75},{"s":"G","x":0.0979,"y":-0.35},{"s":"G","x":0.1,"y":-0.1},
{"s":"R","x":0,"y":-0.5},{"s":"R","x":0.0011,"y":0.28},{"s":"R","x":0.0025,"y":-0.17},{"s":"R","x":0.0043,"y":0.28},{"s":"R","x":0.0061,"y":-0.42},{"s":"R","x":0.0082,"y":0.52},{"s":"R","x":0.0104,"y":1.38},{"s":"R","x":0.0118,"y":0.88},{"s":"R","x":0.0133,"y":-1.12},{"s":"R","x":0.0146,"y":-2.55},{"s":"R","x":0.0158,"y":-0.72},{"s":"R","x":0.0168,"y":1.98},{"s":"R","x":0.0177,"y":2.95},{"s":"R","x":0.0187,"y":2.25},{"s":"R","x":0.0201,"y":-0.22},{"s":"R","x":0.0213,"y":-2.25},{"s":"R","x":0.0222,"y":-3.5},{"s":"R","x":0.0233,"y":-1.42},{"s":"R","x":0.0244,"y":1.12},{"s":"R","x":0.0255,"y":1.68},{"s":"R","x":0.0265,"y":1.38},{"s":"R","x":0.028,"y":-0.02},{"s":"R","x":0.029,"y":-0.42},{"s":"R","x":0.0312,"y":0.08},{"s":"R","x":0.0337,"y":0.83},{"s":"R","x":0.0351,"y":0.83},{"s":"R","x":0.0366,"y":-0.22},{"s":"R","x":0.038,"y":-1.42},{"s":"R","x":0.0391,"y":-0.82},{"s":"R","x":0.0409,"y":-0.22},{"s":"R","x":0.0427,"y":-0.72},{"s":"R","x":0.0441,"y":0.28},{"s":"R","x":0.0459,"y":1.13},{"s":"R","x":0.0473,"y":0.78},{"s":"R","x":0.0491,"y":-0.02},{"s":"R","x":0.0506,"y":-0.82},{"s":"R","x":0.0515,"y":-1.42},{"s":"R","x":0.0527,"y":0.28},{"s":"R","x":0.0542,"y":1.38},{"s":"R","x":0.0556,"y":0.53},{"s":"R","x":0.0577,"y":-0.22},{"s":"R","x":0.0599,"y":0.28},{"s":"R","x":0.0624,"y":-0.82},{"s":"R","x":0.0645,"y":-0.02},{"s":"R","x":0.0667,"y":0.68},{"s":"R","x":0.0681,"y":0.18},{"s":"R","x":0.0697,"y":-1.32},{"s":"R","x":0.0714,"y":-0.22},{"s":"R","x":0.0731,"y":0.83},{"s":"R","x":0.0746,"y":-0.02},{"s":"R","x":0.076,"y":-1.32},{"s":"R","x":0.0775,"y":0.53},{"s":"R","x":0.0792,"y":1.58},{"s":"R","x":0.0807,"y":1.68},{"s":"R","x":0.0818,"y":0.83},{"s":"R","x":0.0832,"y":-1.42},{"s":"R","x":0.0843,"y":-2.6},{"s":"R","x":0.0853,"y":-1.72},{"s":"R","x":0.0868,"y":0.83},{"s":"R","x":0.0878,"y":1.68},{"s":"R","x":0.0893,"y":1.28},{"s":"R","x":0.0911,"y":0.53},{"s":"R","x":0.0925,"y":-0.22},{"s":"R","x":0.094,"y":0.53},{"s":"R","x":0.095,"y":-0.22},{"s":"R","x":0.0965,"y":-0.82},{"s":"R","x":0.0979,"y":-0.42},{"s":"R","x":0.1,"y":-0.17},
{"s":"P","x":0,"y":-0.5},{"s":"P","x":0.0011,"y":0.3},{"s":"P","x":0.0025,"y":-0.15},{"s":"P","x":0.0043,"y":0.3},{"s":"P","x":0.0061,"y":-0.4},{"s":"P","x":0.0082,"y":0.55},{"s":"P","x":0.0104,"y":1.4},{"s":"P","x":0.0118,"y":0.9},{"s":"P","x":0.0133,"y":-1.1},{"s":"P","x":0.0146,"y":-2.5},{"s":"P","x":0.0158,"y":-0.7},{"s":"P","x":0.0168,"y":2.0},{"s":"P","x":0.0177,"y":3.0},{"s":"P","x":0.0187,"y":2.3},{"s":"P","x":0.0201,"y":-0.2},{"s":"P","x":0.0213,"y":-2.2},{"s":"P","x":0.0222,"y":-3.45},{"s":"P","x":0.0233,"y":-1.4},{"s":"P","x":0.0244,"y":1.15},{"s":"P","x":0.0255,"y":1.7},{"s":"P","x":0.0265,"y":1.4},{"s":"P","x":0.028,"y":0.0},{"s":"P","x":0.029,"y":-0.4},{"s":"P","x":0.0312,"y":0.1},{"s":"P","x":0.0337,"y":0.85},{"s":"P","x":0.0351,"y":0.85},{"s":"P","x":0.0366,"y":-0.2},{"s":"P","x":0.038,"y":-1.4},{"s":"P","x":0.0391,"y":-0.8},{"s":"P","x":0.0409,"y":-0.2},{"s":"P","x":0.0427,"y":-0.7},{"s":"P","x":0.0441,"y":0.3},{"s":"P","x":0.0459,"y":1.15},{"s":"P","x":0.0473,"y":0.8},{"s":"P","x":0.0491,"y":0.0},{"s":"P","x":0.0506,"y":-0.8},{"s":"P","x":0.0515,"y":-1.4},{"s":"P","x":0.0527,"y":0.3},{"s":"P","x":0.0542,"y":1.4},{"s":"P","x":0.0556,"y":0.55},{"s":"P","x":0.0577,"y":-0.2},{"s":"P","x":0.0599,"y":0.3},{"s":"P","x":0.0624,"y":-0.8},{"s":"P","x":0.0645,"y":0.0},{"s":"P","x":0.0667,"y":0.7},{"s":"P","x":0.0681,"y":0.2},{"s":"P","x":0.0697,"y":-1.3},{"s":"P","x":0.0714,"y":-0.2},{"s":"P","x":0.0731,"y":0.85},{"s":"P","x":0.0746,"y":0.0},{"s":"P","x":0.076,"y":-1.3},{"s":"P","x":0.0775,"y":0.55},{"s":"P","x":0.0792,"y":1.6},{"s":"P","x":0.0807,"y":1.7},{"s":"P","x":0.0818,"y":0.85},{"s":"P","x":0.0832,"y":-1.4},{"s":"P","x":0.0843,"y":-2.55},{"s":"P","x":0.0853,"y":-1.7},{"s":"P","x":0.0868,"y":0.85},{"s":"P","x":0.0878,"y":1.7},{"s":"P","x":0.0893,"y":1.3},{"s":"P","x":0.0911,"y":0.55},{"s":"P","x":0.0925,"y":-0.2},{"s":"P","x":0.094,"y":0.55},{"s":"P","x":0.095,"y":-0.2},{"s":"P","x":0.0965,"y":-0.8},{"s":"P","x":0.0979,"y":-0.4},{"s":"P","x":0.1,"y":-0.15}
],
"sdb": [
{"s":"Y","x":0,"y":0.59},{"s":"Y","x":0.0014,"y":0.69},{"s":"Y","x":0.0025,"y":0.79},{"s":"Y","x":0.0036,"y":0.84},{"s":"Y","x":0.0043,"y":0.88},{"s":"Y","x":0.0054,"y":1.08},{"s":"Y","x":0.0065,"y":1.14},{"s":"Y","x":0.0079,"y":1.14},{"s":"Y","x":0.009,"y":1.18},{"s":"Y","x":0.01,"y":1.38},{"s":"Y","x":0.0111,"y":1.42},{"s":"Y","x":0.0129,"y":1.38},{"s":"Y","x":0.0147,"y":1.44},{"s":"Y","x":0.0168,"y":1.47},{"s":"Y","x":0.0204,"y":1.47},{"s":"Y","x":0.0226,"y":1.48},{"s":"Y","x":0.024,"y":1.47},{"s":"Y","x":0.0258,"y":1.5},{"s":"Y","x":0.0265,"y":1.44},{"s":"Y","x":0.028,"y":1.34},{"s":"Y","x":0.0294,"y":1.32},{"s":"Y","x":0.0305,"y":1.23},{"s":"Y","x":0.0316,"y":1.1},{"s":"Y","x":0.033,"y":1.14},{"s":"Y","x":0.0341,"y":1.02},{"s":"Y","x":0.0351,"y":0.78},{"s":"Y","x":0.0362,"y":0.74},{"s":"Y","x":0.0384,"y":0.72},{"s":"Y","x":0.0398,"y":0.65},{"s":"Y","x":0.0412,"y":0.67},{"s":"Y","x":0.043,"y":0.74},{"s":"Y","x":0.0448,"y":0.73},{"s":"Y","x":0.0473,"y":0.68},{"s":"Y","x":0.0495,"y":0.68},{"s":"Y","x":0.0509,"y":0.62},{"s":"Y","x":0.0531,"y":0.58},{"s":"Y","x":0.0552,"y":0.6},{"s":"Y","x":0.0563,"y":0.58},{"s":"Y","x":0.0577,"y":0.65},{"s":"Y","x":0.0595,"y":0.6},{"s":"Y","x":0.0617,"y":0.62},{"s":"Y","x":0.0638,"y":0.67},{"s":"Y","x":0.0656,"y":0.65},{"s":"Y","x":0.0674,"y":0.72},{"s":"Y","x":0.0688,"y":0.74},{"s":"Y","x":0.0703,"y":0.78},{"s":"Y","x":0.0717,"y":0.95},{"s":"Y","x":0.0731,"y":1.02},{"s":"Y","x":0.0753,"y":1.05},{"s":"Y","x":0.0775,"y":1.1},{"s":"Y","x":0.0796,"y":1.08},{"s":"Y","x":0.0818,"y":1.04},{"s":"Y","x":0.0839,"y":1.05},{"s":"Y","x":0.0868,"y":1.05},{"s":"Y","x":0.0904,"y":1.04},{"s":"Y","x":0.0925,"y":1.04},{"s":"Y","x":0.0947,"y":0.99},{"s":"Y","x":0.0961,"y":0.95},{"s":"Y","x":0.0972,"y":0.83},{"s":"Y","x":0.0983,"y":0.68},{"s":"Y","x":0.0993,"y":0.73},{"s":"Y","x":0.1,"y":0.74},
{"s":"G","x":0,"y":0.63},{"s":"G","x":0.0014,"y":0.73},{"s":"G","x":0.0025,"y":0.83},{"s":"G","x":0.0036,"y":0.88},{"s":"G","x":0.0043,"y":0.92},{"s":"G","x":0.0054,"y":1.12},{"s":"G","x":0.0065,"y":1.18},{"s":"G","x":0.0079,"y":1.18},{"s":"G","x":0.009,"y":1.22},{"s":"G","x":0.01,"y":1.42},{"s":"G","x":0.0111,"y":1.46},{"s":"G","x":0.0129,"y":1.42},{"s":"G","x":0.0147,"y":1.48},{"s":"G","x":0.0168,"y":1.51},{"s":"G","x":0.0204,"y":1.51},{"s":"G","x":0.0226,"y":1.52},{"s":"G","x":0.024,"y":1.51},{"s":"G","x":0.0258,"y":1.54},{"s":"G","x":0.0265,"y":1.48},{"s":"G","x":0.028,"y":1.38},{"s":"G","x":0.0294,"y":1.36},{"s":"G","x":0.0305,"y":1.27},{"s":"G","x":0.0316,"y":1.14},{"s":"G","x":0.033,"y":1.18},{"s":"G","x":0.0341,"y":1.06},{"s":"G","x":0.0351,"y":0.82},{"s":"G","x":0.0362,"y":0.78},{"s":"G","x":0.0384,"y":0.76},{"s":"G","x":0.0398,"y":0.69},{"s":"G","x":0.0412,"y":0.71},{"s":"G","x":0.043,"y":0.78},{"s":"G","x":0.0448,"y":0.77},{"s":"G","x":0.0473,"y":0.72},{"s":"G","x":0.0495,"y":0.72},{"s":"G","x":0.0509,"y":0.66},{"s":"G","x":0.0531,"y":0.62},{"s":"G","x":0.0552,"y":0.64},{"s":"G","x":0.0563,"y":0.62},{"s":"G","x":0.0577,"y":0.69},{"s":"G","x":0.0595,"y":0.64},{"s":"G","x":0.0617,"y":0.66},{"s":"G","x":0.0638,"y":0.71},{"s":"G","x":0.0656,"y":0.69},{"s":"G","x":0.0674,"y":0.76},{"s":"G","x":0.0688,"y":0.78},{"s":"G","x":0.0703,"y":0.82},{"s":"G","x":0.0717,"y":0.99},{"s":"G","x":0.0731,"y":1.06},{"s":"G","x":0.0753,"y":1.09},{"s":"G","x":0.0775,"y":1.14},{"s":"G","x":0.0796,"y":1.12},{"s":"G","x":0.0818,"y":1.08},{"s":"G","x":0.0839,"y":1.09},{"s":"G","x":0.0868,"y":1.09},{"s":"G","x":0.0904,"y":1.08},{"s":"G","x":0.0925,"y":1.08},{"s":"G","x":0.0947,"y":1.03},{"s":"G","x":0.0961,"y":0.99},{"s":"G","x":0.0972,"y":0.87},{"s":"G","x":0.0983,"y":0.72},{"s":"G","x":0.0993,"y":0.77},{"s":"G","x":0.1,"y":0.78},
{"s":"R","x":0,"y":0.68},{"s":"R","x":0.0014,"y":0.78},{"s":"R","x":0.0025,"y":0.88},{"s":"R","x":0.0036,"y":0.93},{"s":"R","x":0.0043,"y":0.97},{"s":"R","x":0.0054,"y":1.17},{"s":"R","x":0.0065,"y":1.23},{"s":"R","x":0.0079,"y":1.23},{"s":"R","x":0.009,"y":1.27},{"s":"R","x":0.01,"y":1.47},{"s":"R","x":0.0111,"y":1.51},{"s":"R","x":0.0129,"y":1.47},{"s":"R","x":0.0147,"y":1.53},{"s":"R","x":0.0168,"y":1.56},{"s":"R","x":0.0204,"y":1.56},{"s":"R","x":0.0226,"y":1.57},{"s":"R","x":0.024,"y":1.56},{"s":"R","x":0.0258,"y":1.59},{"s":"R","x":0.0265,"y":1.53},{"s":"R","x":0.028,"y":1.43},{"s":"R","x":0.0294,"y":1.41},{"s":"R","x":0.0305,"y":1.32},{"s":"R","x":0.0316,"y":1.19},{"s":"R","x":0.033,"y":1.23},{"s":"R","x":0.0341,"y":1.11},{"s":"R","x":0.0351,"y":0.87},{"s":"R","x":0.0362,"y":0.83},{"s":"R","x":0.0384,"y":0.81},{"s":"R","x":0.0398,"y":0.74},{"s":"R","x":0.0412,"y":0.76},{"s":"R","x":0.043,"y":0.83},{"s":"R","x":0.0448,"y":0.82},{"s":"R","x":0.0473,"y":0.77},{"s":"R","x":0.0495,"y":0.77},{"s":"R","x":0.0509,"y":0.71},{"s":"R","x":0.0531,"y":0.67},{"s":"R","x":0.0552,"y":0.69},{"s":"R","x":0.0563,"y":0.67},{"s":"R","x":0.0577,"y":0.74},{"s":"R","x":0.0595,"y":0.69},{"s":"R","x":0.0617,"y":0.71},{"s":"R","x":0.0638,"y":0.76},{"s":"R","x":0.0656,"y":0.74},{"s":"R","x":0.0674,"y":0.81},{"s":"R","x":0.0688,"y":0.83},{"s":"R","x":0.0703,"y":0.87},{"s":"R","x":0.0717,"y":1.04},{"s":"R","x":0.0731,"y":1.11},{"s":"R","x":0.0753,"y":1.14},{"s":"R","x":0.0775,"y":1.19},{"s":"R","x":0.0796,"y":1.17},{"s":"R","x":0.0818,"y":1.13},{"s":"R","x":0.0839,"y":1.14},{"s":"R","x":0.0868,"y":1.14},{"s":"R","x":0.0904,"y":1.13},{"s":"R","x":0.0925,"y":1.13},{"s":"R","x":0.0947,"y":1.08},{"s":"R","x":0.0961,"y":1.04},{"s":"R","x":0.0972,"y":0.92},{"s":"R","x":0.0983,"y":0.77},{"s":"R","x":0.0993,"y":0.82},{"s":"R","x":0.1,"y":0.83},
{"s":"P","x":0,"y":0.71},{"s":"P","x":0.0014,"y":0.81},{"s":"P","x":0.0025,"y":0.91},{"s":"P","x":0.0036,"y":0.96},{"s":"P","x":0.0043,"y":1.0},{"s":"P","x":0.0054,"y":1.2},{"s":"P","x":0.0065,"y":1.26},{"s":"P","x":0.0079,"y":1.26},{"s":"P","x":0.009,"y":1.3},{"s":"P","x":0.01,"y":1.5},{"s":"P","x":0.0111,"y":1.54},{"s":"P","x":0.0129,"y":1.5},{"s":"P","x":0.0147,"y":1.56},{"s":"P","x":0.0168,"y":1.59},{"s":"P","x":0.0204,"y":1.59},{"s":"P","x":0.0226,"y":1.6},{"s":"P","x":0.024,"y":1.59},{"s":"P","x":0.0258,"y":1.62},{"s":"P","x":0.0265,"y":1.56},{"s":"P","x":0.028,"y":1.46},{"s":"P","x":0.0294,"y":1.44},{"s":"P","x":0.0305,"y":1.35},{"s":"P","x":0.0316,"y":1.22},{"s":"P","x":0.033,"y":1.26},{"s":"P","x":0.0341,"y":1.14},{"s":"P","x":0.0351,"y":0.9},{"s":"P","x":0.0362,"y":0.86},{"s":"P","x":0.0384,"y":0.84},{"s":"P","x":0.0398,"y":0.77},{"s":"P","x":0.0412,"y":0.79},{"s":"P","x":0.043,"y":0.86},{"s":"P","x":0.0448,"y":0.85},{"s":"P","x":0.0473,"y":0.8},{"s":"P","x":0.0495,"y":0.8},{"s":"P","x":0.0509,"y":0.74},{"s":"P","x":0.0531,"y":0.7},{"s":"P","x":0.0552,"y":0.72},{"s":"P","x":0.0563,"y":0.7},{"s":"P","x":0.0577,"y":0.77},{"s":"P","x":0.0595,"y":0.72},{"s":"P","x":0.0617,"y":0.74},{"s":"P","x":0.0638,"y":0.79},{"s":"P","x":0.0656,"y":0.77},{"s":"P","x":0.0674,"y":0.84},{"s":"P","x":0.0688,"y":0.86},{"s":"P","x":0.0703,"y":0.9},{"s":"P","x":0.0717,"y":1.07},{"s":"P","x":0.0731,"y":1.14},{"s":"P","x":0.0753,"y":1.17},{"s":"P","x":0.0775,"y":1.22},{"s":"P","x":0.0796,"y":1.2},{"s":"P","x":0.0818,"y":1.16},{"s":"P","x":0.0839,"y":1.17},{"s":"P","x":0.0868,"y":1.17},{"s":"P","x":0.0904,"y":1.16},{"s":"P","x":0.0925,"y":1.16},{"s":"P","x":0.0947,"y":1.11},{"s":"P","x":0.0961,"y":1.07},{"s":"P","x":0.0972,"y":0.95},{"s":"P","x":0.0983,"y":0.8},{"s":"P","x":0.0993,"y":0.85},{"s":"P","x":0.1,"y":0.86}
]
},
"vconcat": [
 {"spacing": 0, "bounds": "flush", "vconcat": [
  {"title": {"text": "(a) Before synchronisation"}, "width": 509, "height": 62, "data": {"name": "lla"},
   "mark": {"type": "line", "strokeWidth": 1, "opacity": 0.85, "interpolate": "monotone"},
   "encoding": {
    "x": {"field": "x", "type": "quantitative", "scale": {"domain": [-0.005, 0.105], "nice": false, "zero": false}, "axis": {"orient": "top", "values": [0,0.0125,0.025,0.0375,0.05,0.0625,0.075,0.0875,0.1], "labels": false, "ticks": false, "domain": false, "title": null, "maxExtent": 0, "gridColor": {"condition": {"test": "round(datum.value*80) % 2 == 1", "value": "#f3f3f3"}, "value": "#e2e2e2"}}},
    "y": {"field": "y", "type": "quantitative", "scale": {"domain": [-5.4, 5.35], "nice": false, "zero": false}, "axis": {"values": [-4,-2,0,2,4], "title": "LL [mm]", "labelExpr": "datum.value == 4 ? '4' : datum.value == 0 ? '0' : datum.value == -4 ? '−4' : ''", "tickOpacity": {"condition": {"test": "datum.value % 4 != 0", "value": 0}, "value": 1}, "gridColor": {"condition": {"test": "datum.value % 4 != 0", "value": "#f3f3f3"}, "value": "#e2e2e2"}}},
    "color": {"field": "s", "type": "nominal", "sort": null, "scale": {"domain": ["O","Y","R","G","T","P"], "range": ["#8a7a3a","#e0cc5a","#cc2f55","#a8d48c","#86aebb","#44478a"]}, "legend": null}
   }},
  {"width": 509, "height": 64,
   "layer": [
    {"data": {"name": "sda"},
     "mark": {"type": "line", "strokeWidth": 1, "opacity": 0.85, "interpolate": "monotone"},
     "encoding": {
      "x": {"field": "x", "type": "quantitative", "scale": {"domain": [-0.005, 0.105], "nice": false, "zero": false}, "axis": {"values": [0,0.0125,0.025,0.0375,0.05,0.0625,0.075,0.0875,0.1], "format": ".3f", "title": "Track position [km]", "labelExpr": "round(datum.value*80) % 2 == 0 ? datum.label : ''", "tickOpacity": {"condition": {"test": "round(datum.value*80) % 2 == 1", "value": 0}, "value": 1}, "gridColor": {"condition": {"test": "round(datum.value*80) % 2 == 1", "value": "#f3f3f3"}, "value": "#e2e2e2"}}},
      "y": {"field": "y", "type": "quantitative", "scale": {"domain": [-0.2, 2.23], "nice": false, "zero": false}, "axis": {"values": [0,1,2], "format": "d", "labelOverlap": false, "title": "SD [mm]", "gridColor": "#e2e2e2"}},
      "color": {"field": "s", "type": "nominal", "sort": null, "scale": {"domain": ["O","Y","R","G","T","P"], "range": ["#8a7a3a","#e0cc5a","#cc2f55","#a8d48c","#86aebb","#44478a"]}, "legend": null}
     }},
    {"data": {"values": [{}]}, "mark": {"type": "rule", "color": "#4d4d4d", "strokeWidth": 1.6}, "encoding": {"y": {"datum": 2.23}}}
   ]}
 ]},
 {"spacing": 0, "bounds": "flush", "vconcat": [
  {"title": {"text": "(b) After synchronisation"}, "width": 509, "height": 62, "data": {"name": "llb"},
   "mark": {"type": "line", "strokeWidth": 1.2, "opacity": 0.9, "interpolate": "monotone"},
   "encoding": {
    "x": {"field": "x", "type": "quantitative", "scale": {"domain": [-0.005, 0.105], "nice": false, "zero": false}, "axis": {"orient": "top", "values": [0,0.0125,0.025,0.0375,0.05,0.0625,0.075,0.0875,0.1], "labels": false, "ticks": false, "domain": false, "title": null, "maxExtent": 0, "gridColor": {"condition": {"test": "round(datum.value*80) % 2 == 1", "value": "#f3f3f3"}, "value": "#e2e2e2"}}},
    "y": {"field": "y", "type": "quantitative", "scale": {"domain": [-5.4, 5.35], "nice": false, "zero": false}, "axis": {"values": [-4,-2,0,2,4], "title": "LL [mm]", "labelExpr": "datum.value == 4 ? '4' : datum.value == 0 ? '0' : datum.value == -4 ? '−4' : ''", "tickOpacity": {"condition": {"test": "datum.value % 4 != 0", "value": 0}, "value": 1}, "gridColor": {"condition": {"test": "datum.value % 4 != 0", "value": "#f3f3f3"}, "value": "#e2e2e2"}}},
    "color": {"field": "s", "type": "nominal", "sort": null, "scale": {"domain": ["O","Y","R","G","T","P"], "range": ["#8a7a3a","#e0cc5a","#cc2f55","#a8d48c","#86aebb","#44478a"]}, "legend": null}
   }},
  {"width": 509, "height": 64,
   "layer": [
    {"data": {"name": "sdb"},
     "mark": {"type": "line", "strokeWidth": 1.2, "opacity": 0.9, "interpolate": "monotone"},
     "encoding": {
      "x": {"field": "x", "type": "quantitative", "scale": {"domain": [-0.005, 0.105], "nice": false, "zero": false}, "axis": {"values": [0,0.0125,0.025,0.0375,0.05,0.0625,0.075,0.0875,0.1], "format": ".3f", "title": "Track position [km]", "labelExpr": "round(datum.value*80) % 2 == 0 ? datum.label : ''", "tickOpacity": {"condition": {"test": "round(datum.value*80) % 2 == 1", "value": 0}, "value": 1}, "gridColor": {"condition": {"test": "round(datum.value*80) % 2 == 1", "value": "#f3f3f3"}, "value": "#e2e2e2"}}},
      "y": {"field": "y", "type": "quantitative", "scale": {"domain": [-0.2, 2.2], "nice": false, "zero": false}, "axis": {"values": [0,1,2], "format": "d", "labelOverlap": false, "title": "SD [mm]", "gridColor": "#e2e2e2"}},
      "color": {"field": "s", "type": "nominal", "sort": null, "scale": {"domain": ["O","Y","R","G","T","P"], "range": ["#8a7a3a","#e0cc5a","#cc2f55","#a8d48c","#86aebb","#44478a"]}, "legend": null}
     }},
    {"data": {"values": [{}]}, "mark": {"type": "rule", "color": "#4d4d4d", "strokeWidth": 1.6}, "encoding": {"y": {"datum": 2.2}}}
   ]}
 ]}
]
}
